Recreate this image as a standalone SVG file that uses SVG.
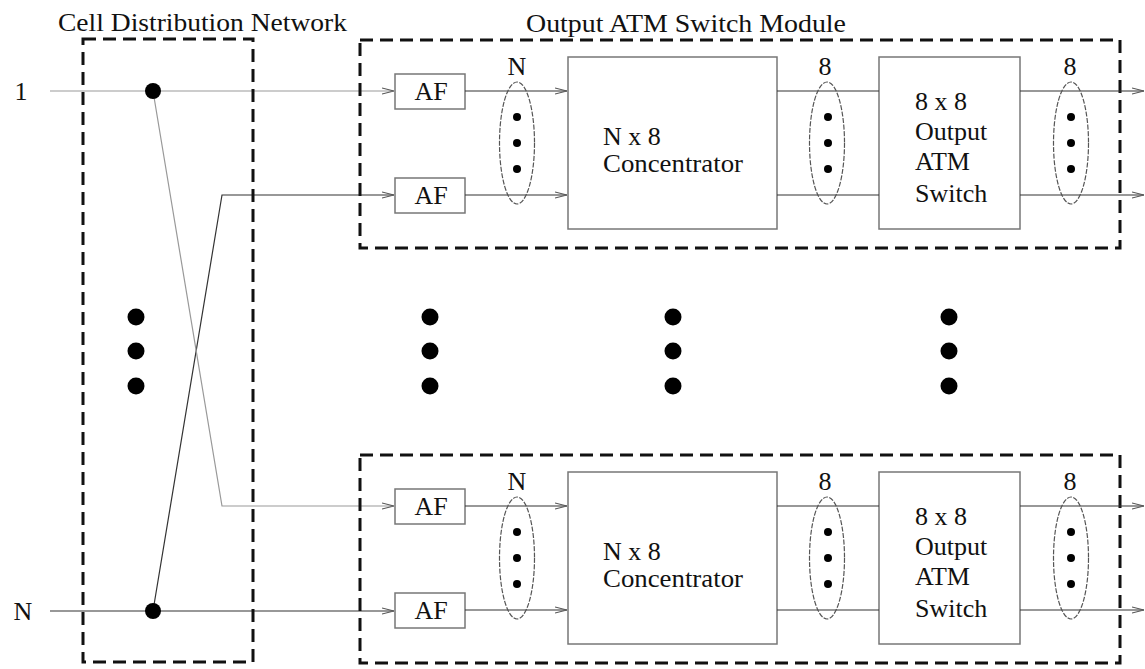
<svg xmlns="http://www.w3.org/2000/svg" width="1145" height="669" viewBox="0 0 1145 669">
<style>
text{font-family:"Liberation Serif","Times New Roman",serif;fill:#111;}
.t{font-size:26px;}
.dash{fill:none;stroke:#111;stroke-width:3;stroke-dasharray:13 7;}
.box{fill:#fff;stroke:#777;stroke-width:1.5;}
.ln{fill:none;stroke:#333;stroke-width:1.2;}
.lg{fill:none;stroke:#999;stroke-width:1.2;}
.ell{fill:none;stroke:#555;stroke-width:1.2;stroke-dasharray:5 1.5;}
.dot{fill:#000;}
</style>
<defs>
<marker id="arr" viewBox="0 0 12 8" refX="12" refY="4" markerWidth="12" markerHeight="8" markerUnits="userSpaceOnUse" orient="auto">
<path d="M0,1 L12,4 L0,7" fill="none" stroke="#555" stroke-width="1.1"/>
</marker>
<g id="module">
<rect class="dash" x="360" y="40" width="760" height="208"/>
<rect class="box" x="395" y="74" width="70" height="35"/>
<text class="t" x="431" y="100" text-anchor="middle">AF</text>
<rect class="box" x="395" y="178" width="70" height="35"/>
<text class="t" x="431" y="204" text-anchor="middle">AF</text>
<rect class="box" x="568" y="57" width="209" height="172"/>
<text class="t" x="603" y="145">N x 8</text>
<text class="t" x="603" y="172" textLength="140" lengthAdjust="spacingAndGlyphs">Concentrator</text>
<rect class="box" x="879" y="57" width="141" height="172"/>
<text class="t" x="915" y="110">8 x 8</text>
<text class="t" x="915" y="140">Output</text>
<text class="t" x="915" y="170">ATM</text>
<text class="t" x="915" y="202">Switch</text>
<line class="ln" x1="465" y1="91" x2="567" y2="91" marker-end="url(#arr)"/>
<line class="ln" x1="465" y1="195" x2="567" y2="195" marker-end="url(#arr)"/>
<line class="ln" x1="777" y1="91" x2="879" y2="91"/>
<line class="ln" x1="777" y1="195" x2="879" y2="195"/>
<line class="ln" x1="1020" y1="91" x2="1144" y2="91" marker-end="url(#arr)"/>
<line class="ln" x1="1020" y1="195" x2="1144" y2="195" marker-end="url(#arr)"/>
<ellipse class="ell" cx="517" cy="143" rx="17.5" ry="61"/>
<circle class="dot" cx="517" cy="117" r="4"/><circle class="dot" cx="517" cy="143" r="4"/><circle class="dot" cx="517" cy="169" r="4"/>
<text class="t" x="517" y="75" text-anchor="middle">N</text>
<ellipse class="ell" cx="827" cy="143" rx="17.5" ry="61"/>
<circle class="dot" cx="828" cy="117" r="4"/><circle class="dot" cx="828" cy="143" r="4"/><circle class="dot" cx="828" cy="169" r="4"/>
<text class="t" x="825" y="75" text-anchor="middle">8</text>
<ellipse class="ell" cx="1071" cy="143" rx="17.5" ry="61"/>
<circle class="dot" cx="1071" cy="117" r="4"/><circle class="dot" cx="1071" cy="143" r="4"/><circle class="dot" cx="1071" cy="169" r="4"/>
<text class="t" x="1070" y="75" text-anchor="middle">8</text>
</g>
</defs>
<rect width="1145" height="669" fill="#fff"/>
<g id="connectors">
<line class="lg" x1="50" y1="91" x2="394" y2="91" marker-end="url(#arr)"/>
<polyline class="ln" points="153,611 222,195 394,195" marker-end="url(#arr)"/>
<polyline class="lg" points="153,91 222,506 394,506" marker-end="url(#arr)"/>
<line class="ln" x1="50" y1="611" x2="394" y2="611" marker-end="url(#arr)"/>
</g>
<g id="cell-distribution-network">
<rect class="dash" x="83" y="39" width="170" height="623"/>
<text class="t" x="58" y="31" textLength="289" lengthAdjust="spacingAndGlyphs">Cell Distribution Network</text>
<circle class="dot" cx="153" cy="91" r="8"/>
<circle class="dot" cx="153" cy="611" r="8"/>
</g>
<g id="label-1"><text class="t" x="21" y="100" text-anchor="middle">1</text></g>
<g id="label-N"><text class="t" x="23" y="620" text-anchor="middle">N</text></g>
<g id="module-top">
<use href="#module"/>
<text class="t" x="526" y="32" textLength="320" lengthAdjust="spacingAndGlyphs">Output ATM Switch Module</text>
</g>
<g id="module-bottom">
<use href="#module" transform="translate(0,415)"/>
</g>
<g id="ellipsis-dots">
<circle class="dot" cx="136" cy="317" r="8.5"/><circle class="dot" cx="136" cy="351" r="8.5"/><circle class="dot" cx="136" cy="386" r="8.5"/>
<circle class="dot" cx="430" cy="317" r="8.5"/><circle class="dot" cx="430" cy="351" r="8.5"/><circle class="dot" cx="430" cy="386" r="8.5"/>
<circle class="dot" cx="673" cy="317" r="8.5"/><circle class="dot" cx="673" cy="351" r="8.5"/><circle class="dot" cx="673" cy="386" r="8.5"/>
<circle class="dot" cx="949" cy="317" r="8.5"/><circle class="dot" cx="949" cy="351" r="8.5"/><circle class="dot" cx="949" cy="386" r="8.5"/>
</g>
</svg>
